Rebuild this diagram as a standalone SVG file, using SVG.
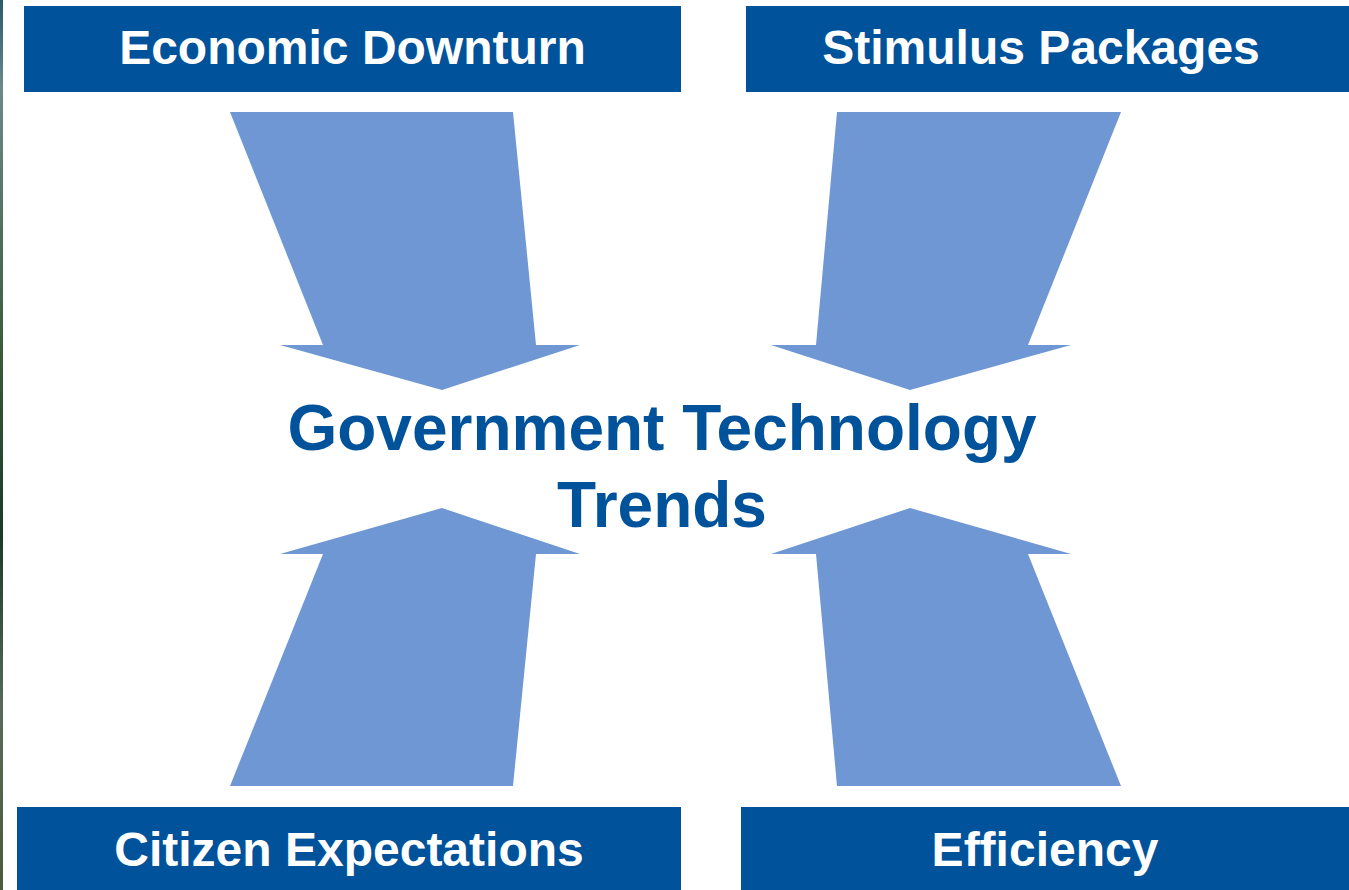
<svg xmlns="http://www.w3.org/2000/svg" width="1349" height="890" viewBox="0 0 1349 890">
<defs>
<style>
.box{fill:#00529B}
.arr{fill:#6F97D3}
.lbl{font-family:"Liberation Sans",Arial,sans-serif;font-weight:bold;font-size:48px;fill:#FFFFFF;text-anchor:middle}
.ctr{font-family:"Liberation Sans",Arial,sans-serif;font-weight:bold;font-size:64px;fill:#00529B;text-anchor:middle}
</style>
<linearGradient id="edge" x1="0" y1="0" x2="0" y2="1">
<stop offset="0" stop-color="#2a5a6a"/>
<stop offset="0.1" stop-color="#6a8a8a"/>
<stop offset="0.4" stop-color="#3a5a3a"/>
<stop offset="0.6" stop-color="#1a3a2a"/>
<stop offset="0.8" stop-color="#5a6a5a"/>
<stop offset="1" stop-color="#4a5a3a"/>
</linearGradient>
</defs>
<rect x="0" y="0" width="1349" height="890" fill="#FFFFFF"/>
<rect x="0" y="0" width="3" height="890" fill="url(#edge)"/>
<g id="connectors">
<polygon class="arr" points="230,112 513,112 536,345 580,345 442,390 280,345 323,345"/>
<polygon class="arr" points="1121,112 837,112 816,345 771,345 910,390 1071,345 1028,345"/>
<polygon class="arr" points="230,786 513,786 536,554 580,554 442,508 280,554 323,554"/>
<polygon class="arr" points="1121,786 837,786 816,554 771,554 910,508 1071,554 1028,554"/>
</g>
<g id="economic-downturn">
<rect class="box" x="24" y="6" width="657" height="86"/>
<text class="lbl" x="352.5" y="64">Economic Downturn</text>
</g>
<g id="stimulus-packages">
<rect class="box" x="746" y="6" width="603" height="86"/>
<text class="lbl" x="1041" y="64">Stimulus Packages</text>
</g>
<g id="citizen-expectations">
<rect class="box" x="17" y="807" width="664" height="83"/>
<text class="lbl" x="349" y="866">Citizen Expectations</text>
</g>
<g id="efficiency">
<rect class="box" x="741" y="807" width="608" height="83"/>
<text class="lbl" x="1045" y="866">Efficiency</text>
</g>
<g id="government-technology-trends">
<text class="ctr" x="662" y="450">Government Technology</text>
<text class="ctr" x="662" y="527">Trends</text>
</g>
</svg>
